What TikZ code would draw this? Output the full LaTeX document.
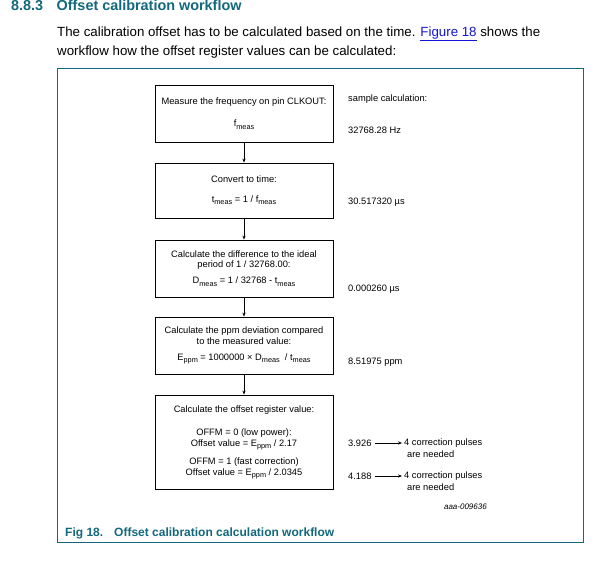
\documentclass[tikz,border=0pt]{standalone}
\usepackage{fontspec}
\setmainfont{Liberation Sans}
\usetikzlibrary{arrows.meta}
\definecolor{nxpteal}{RGB}{18,104,124}
\definecolor{linkblue}{RGB}{20,20,215}
\newcommand{\lowtxt}[1]{\raisebox{-2.2pt}{\fontsize{7.3}{8}\selectfont #1}}
\tikzset{
  stepbox/.style={draw, line width=0.8pt, minimum width=178pt, minimum height=57pt,
    align=center, inner sep=0pt, font=\fontsize{9.3}{10.5}\selectfont},
  flow/.style={-{Stealth[length=4pt,width=3.2pt]}, line width=0.7pt},
  value/.style={anchor=west, inner sep=0pt, font=\fontsize{9.3}{10.5}\selectfont},
  pagetext/.style={anchor=base west, inner sep=0pt, font=\fontsize{13.3}{19}\selectfont},
  titletext/.style={anchor=base west, inner sep=0pt, text=nxpteal,
    font=\fontsize{14.4}{16}\bfseries\selectfont},
}
\begin{document}
\begin{tikzpicture}[x=1pt,y=-1pt]
    \useasboundingbox (0,0) rectangle (598,577);
    % section heading and the lines above the figure
    \node[titletext] (secnum) at (11,11) {8.8.3};
    \node[titletext] (sectitle) at (56.5,11) {Offset calibration workflow};
    \node[pagetext] (intro1) at (57,36.5)
        {The calibration offset has to be calculated based on the time. \textcolor{linkblue}{\underline{Figure 18}} shows the};
    \node[pagetext] (intro2) at (57,55.5) {workflow how the offset register values can be calculated:};
    % figure frame
    \draw[nxpteal, line width=1pt] (57,69) rectangle (583,543);
    % the five steps
    \node[stepbox] (measure) at (244,113.5)
        {Measure the frequency on pin CLKOUT:\\[12pt] f\lowtxt{meas}};
    \node[stepbox, minimum height=55pt] (convert) at (244,190.5)
        {Convert to time:\\[9pt] t\lowtxt{meas} = 1 / f\lowtxt{meas}};
    \node[stepbox] (differ) at (244,268.5)
        {Calculate the difference to the ideal\\period of 1 / 32768.00:\\[5.5pt]
         D\lowtxt{meas} = 1 / 32768 - t\lowtxt{meas}};
    \node[stepbox] (ppm) at (244,345.5)
        {Calculate the ppm deviation compared\\to the measured value:\\[5.5pt]
         E\lowtxt{ppm} = 1000000 × D\lowtxt{meas}\ \ / t\lowtxt{meas}};
    \node[stepbox, minimum height=94pt] (offset) at (244,442)
        {Calculate the offset register value:\\[13pt]
         OFFM = 0 (low power):\\Offset value = E\lowtxt{ppm} / 2.17\\[8pt]
         OFFM = 1 (fast correction)\\Offset value = E\lowtxt{ppm} / 2.0345};
    \draw[flow] (measure) -- (convert);
    \draw[flow] (convert) -- (differ);
    \draw[flow] (differ) -- (ppm);
    \draw[flow] (ppm) -- (offset);
    % sample values on the right
    \node[value] (sample) at (348,99) {sample calculation:};
    \node[value] (fval) at (348,130) {32768.28 Hz};
    \node[value] (tval) at (348,202) {30.517320 µs};
    \node[value] (dval) at (348,289) {0.000260 µs};
    \node[value] (eval) at (348,362) {8.51975 ppm};
    \node[value] (lowval) at (348,443) {3.926};
    \node[value] (lowpulse) at (404,443) {4 correction pulses};
    \node[value] (lowneed) at (407,454) {are needed};
    \node[value] (fastval) at (348,476) {4.188};
    \node[value] (fastpulse) at (404,476) {4 correction pulses};
    \node[value] (fastneed) at (407,487) {are needed};
    \draw[flow, shorten <=3pt, shorten >=2pt] (lowval) -- (lowpulse);
    \draw[flow, shorten <=3pt, shorten >=2pt] (fastval) -- (fastpulse);
    \node[anchor=east, inner sep=0pt, font=\fontsize{8}{9}\itshape\selectfont] (figid) at (487,507) {aaa-009636};
    % caption
    \node[anchor=base west, inner sep=0pt, text=nxpteal, font=\fontsize{12}{14}\bfseries\selectfont] (caption) at (65,537)
        {Fig 18.\hspace{11pt}Offset calibration calculation workflow};
\end{tikzpicture}
\end{document}
